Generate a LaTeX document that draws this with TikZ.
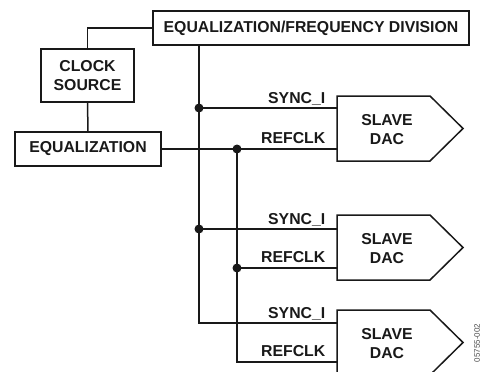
\documentclass[tikz,border=0pt]{standalone}
\usepackage{fontspec}
\setmainfont{Liberation Sans}
\begin{document}
\begin{tikzpicture}[x=1pt,y=-1pt,line width=1.5pt,color={black!90},
  txt/.style={font=\fontsize{15.8}{19.5}\selectfont\bfseries},
  box/.style={draw,line width=1.5pt,inner sep=0pt,txt,align=center},
  lbl/.style={txt,inner sep=0pt,anchor=base east},
  dactext/.style={txt,inner sep=0pt,align=center},
  dacshape/.style={draw,line width=1.5pt,line join=miter},
  jdot/.style={circle,fill,inner sep=0pt,minimum size=9pt}]
\useasboundingbox (0,0) rectangle (482,372);
% boxes
\node[box,minimum width=316pt,minimum height=34pt] (eqfd) at (311,28) {EQUALIZATION/FREQUENCY DIVISION};
\node[box,minimum width=93pt,minimum height=53pt] (clk) at (87.5,75.5) {CLOCK\\SOURCE};
\node[box,minimum width=146pt,minimum height=34pt] (eq) at (88,149) {EQUALIZATION};
% slave DACs
\draw[dacshape] (337,96) -- (430,96) -- (463,128.5) -- (430,161) -- (337,161) -- cycle;
\draw[dacshape] (337,215) -- (430,215) -- (463,247.5) -- (430,280) -- (337,280) -- cycle;
\draw[dacshape] (337,310) -- (430,310) -- (463,342.5) -- (430,375) -- (337,375) -- cycle;
\node[dactext] (dac1) at (387,129.5) {SLAVE\\DAC};
\node[dactext] (dac2) at (387,248.5) {SLAVE\\DAC};
\node[dactext] (dac3) at (387,343.5) {SLAVE\\DAC};
% pins
\coordinate (s1) at (337,108);
\coordinate (r1) at (337,149);
\coordinate (s2) at (337,229);
\coordinate (r2) at (337,268);
\coordinate (s3) at (337,323);
\coordinate (r3) at (337,362);
% junctions
\coordinate (j1) at (199,108);
\coordinate (j2) at (199,229);
\coordinate (c3) at (199,323);
\coordinate (k1) at (237,149);
\coordinate (k2) at (237,268);
\coordinate (k3) at (237,362);
% connectors
\draw (clk.north) |- (eqfd.west);
\draw (clk.south) -- (eq.north);
\draw (j1 |- eqfd.south) -- (j1) -- (j2) -- (c3) -- (s3);
\draw (j1) -- (s1);
\draw (j2) -- (s2);
\draw (eq.east) -- (k1) -- (r1);
\draw (k1) -- (k2) -- (k3) -- (r3);
\draw (k2) -- (r2);
\node[jdot] (dj1) at (j1) {};
\node[jdot] (dj2) at (j2) {};
\node[jdot] (dk1) at (k1) {};
\node[jdot] (dk2) at (k2) {};
% pin labels
\node[lbl] (ls1) at ([xshift=-11pt,yshift=5pt]s1) {SYNC\_I};
\node[lbl] (lr1) at ([xshift=-11pt,yshift=6pt]r1) {REFCLK};
\node[lbl] (ls2) at ([xshift=-11pt,yshift=5pt]s2) {SYNC\_I};
\node[lbl] (lr2) at ([xshift=-11pt,yshift=6pt]r2) {REFCLK};
\node[lbl] (ls3) at ([xshift=-11pt,yshift=5pt]s3) {SYNC\_I};
\node[lbl] (lr3) at ([xshift=-11pt,yshift=6pt]r3) {REFCLK};
% figure number
\node[font=\fontsize{8}{9}\selectfont,rotate=90,anchor=east,inner sep=0pt,text=black!70] (fig) at (477,323) {05755-002};
\end{tikzpicture}
\end{document}
